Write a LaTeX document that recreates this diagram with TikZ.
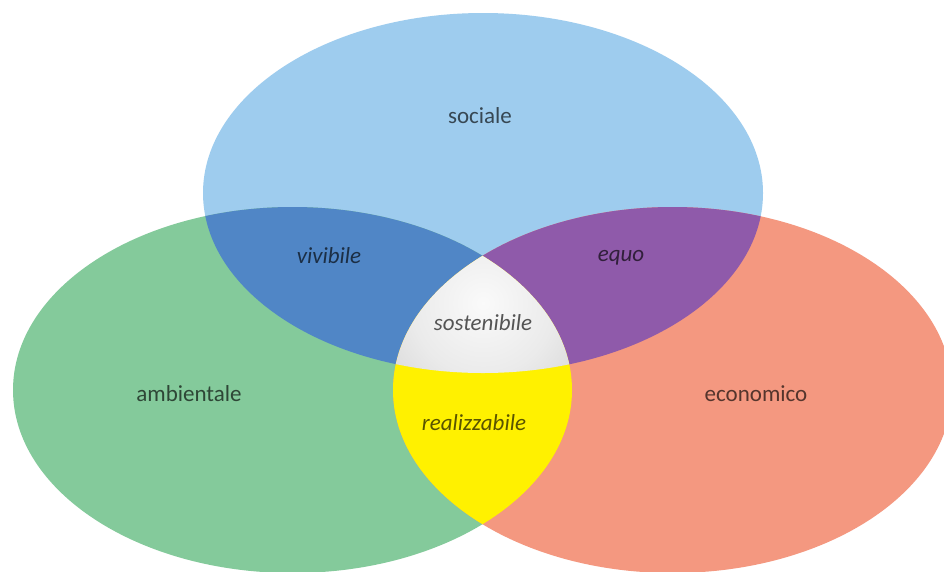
\documentclass[tikz,border=0pt]{standalone}
\usepackage{fontspec}
\setmainfont{Carlito}
\usetikzlibrary{shadings}

\definecolor{socialeblue}{RGB}{158,204,238}
\definecolor{ambientegreen}{RGB}{132,202,155}
\definecolor{economicored}{RGB}{244,152,128}
\definecolor{vivibileblue}{RGB}{80,134,198}
\definecolor{equopurple}{RGB}{143,90,170}
\definecolor{realyellow}{RGB}{255,241,0}

% soft grey core: nearly white in the middle, darker towards the rim
\pgfdeclareradialshading{sostshade}{\pgfpoint{0bp}{0bp}}{%
  color(0bp)=(white!98!black);
  color(15bp)=(white!92!black);
  color(30bp)=(white!82!black);
  color(40bp)=(white!73!black);
  color(50bp)=(white!67!black)}

\tikzset{
  socialearea/.style={insert path={(483,193) ellipse [x radius=280pt, y radius=180pt]}},
  ambientearea/.style={insert path={(292.5,390) ellipse [x radius=279.5pt, y radius=183pt]}},
  economicoarea/.style={insert path={(672.5,390) ellipse [x radius=279.5pt, y radius=183pt]}},
  label/.style={font=\fontsize{23}{27}\selectfont, text=black, text opacity=0.65,
    inner sep=0pt},
  itlabel/.style={label, font=\fontsize{23}{27}\selectfont\itshape}
}

\begin{document}
\begin{tikzpicture}[x=1pt,y=-1pt]
  \useasboundingbox (0,0) rectangle (944,571);
  \fill[white] (0,0) rectangle (944,571);

  % the three spheres
  \fill[socialeblue, socialearea];
  \fill[ambientegreen, ambientearea];
  \fill[economicored, economicoarea];

  % pairwise overlaps
  \begin{scope}
    \clip[socialearea];
    \fill[vivibileblue, ambientearea];
  \end{scope}
  \begin{scope}
    \clip[socialearea];
    \fill[equopurple, economicoarea];
  \end{scope}
  \begin{scope}
    \clip[ambientearea];
    \fill[realyellow, economicoarea];
  \end{scope}

  % common core
  \begin{scope}
    \clip[socialearea];
    \clip[ambientearea];
    \clip[economicoarea];
    \shade[shading=sostshade] (483,303) circle (120pt);
  \end{scope}

  % labels
  \node[label] (sociale) at (480,116) {sociale};
  \node[label] (ambientale) at (189,394) {ambientale};
  \node[label] (economico) at (756,394) {economico};
  \node[itlabel] (vivibile) at (329,256) {vivibile};
  \node[itlabel] (equo) at (621,258) {equo};
  \node[itlabel] (sostenibile) at (483,323) {sostenibile};
  \node[itlabel] (realizzabile) at (474,423) {realizzabile};
\end{tikzpicture}
\end{document}
